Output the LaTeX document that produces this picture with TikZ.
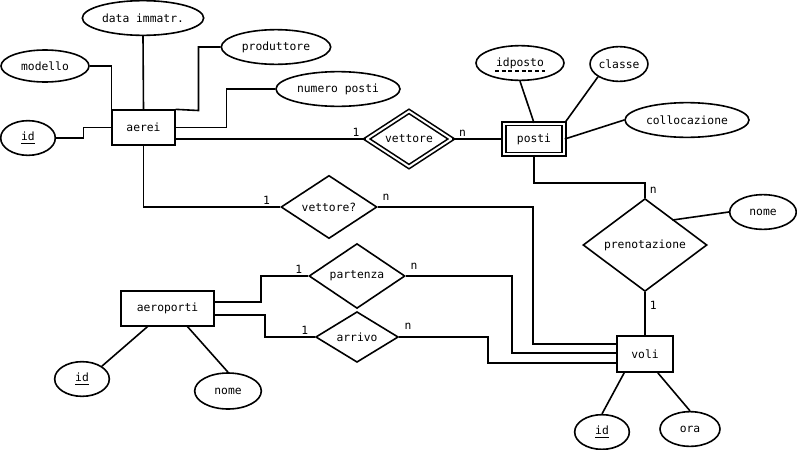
\documentclass[tikz,border=0pt]{standalone}
\usepackage{fontspec}
\setmonofont{DejaVu Sans Mono}
\usetikzlibrary{shapes.geometric}

\tikzset{
  er/.style={line width=1.2pt, font=\ttfamily\fontsize{8.5}{10}\selectfont, inner sep=0pt},
  entity/.style={er, draw, rectangle},
  attr/.style={er, draw, ellipse},
  rel/.style={er, draw, diamond},
  wrel/.style={er, draw, diamond, double, double distance=1.5pt},
  link/.style={line width=1.2pt},
  card/.style={font=\ttfamily\fontsize{8.5}{10}\selectfont, inner sep=1pt}
}

\begin{document}
\begin{tikzpicture}[x=0.75pt, y=-0.75pt]
  \useasboundingbox (0,0) rectangle (797,450);

  % entities
  \node[entity, minimum width=47pt, minimum height=26pt] (aerei) at (143.5,127.5) {aerei};
  \node[entity, minimum width=45pt, minimum height=23pt, double, double distance=1.5pt] (posti) at (534,139) {posti};
  \node[entity, minimum width=42pt, minimum height=27pt] (voli) at (645,354) {voli};
  \node[entity, minimum width=70pt, minimum height=26pt] (aeroporti) at (167.5,308.5) {aeroporti};

  % relationships
  \node[wrel, minimum width=64pt, minimum height=38pt] (vettore) at (409,139) {vettore};
  \node[rel, minimum width=72pt, minimum height=44pt] (vettoreq) at (329,207) {vettore?};
  \node[rel, minimum width=93pt, minimum height=56pt] (prenotazione) at (645,245) {prenotazione};
  \node[rel, minimum width=72pt, minimum height=44pt] (partenza) at (357,276) {partenza};
  \node[rel, minimum width=62pt, minimum height=38pt] (arrivo) at (357,337) {arrivo};

  % attributes
  \node[attr, minimum width=66pt, minimum height=24pt] (modello) at (45,66) {modello};
  \node[attr, minimum width=91pt, minimum height=26pt] (dataimm) at (143,18) {data immatr.};
  \node[attr, minimum width=82pt, minimum height=26pt] (produttore) at (276,47) {produttore};
  \node[attr, minimum width=93pt, minimum height=26pt] (numposti) at (338,89) {numero posti};
  \node[attr, minimum width=41pt, minimum height=26pt] (aereiid) at (28,138) {\underline{id}};
  \node[attr, minimum width=66pt, minimum height=26pt] (idposto) at (520,63) {idposto};
  \node[attr, minimum width=42pt, minimum height=26pt] (classe) at (619,64) {classe};
  \node[attr, minimum width=93pt, minimum height=26pt] (collocazione) at (687,120) {collocazione};
  \node[attr, minimum width=50pt, minimum height=26pt] (prennome) at (763,212) {nome};
  \node[attr, minimum width=41pt, minimum height=26pt] (voliid) at (602,432) {\underline{id}};
  \node[attr, minimum width=45pt, minimum height=26pt] (ora) at (690,429) {ora};
  \node[attr, minimum width=41pt, minimum height=26pt] (aeroid) at (82,379) {\underline{id}};
  \node[attr, minimum width=50pt, minimum height=27pt] (aeronome) at (228,391) {nome};
  \draw[line width=1.2pt, dash pattern=on 3pt off 2pt] (495,71) -- (545,71);

  % attribute links
  \draw[link] (modello.east) -| (aerei.north west);
  \draw[link] (dataimm.south) -- (aerei.north);
  \draw[link] (produttore.west) -| (198.5,110.5) -- (aerei.north east);
  \draw[link] (numposti.west) -| (226.5,127.5) -- (aerei.east);
  \draw[link] (aereiid.east) -| (83.5,127.5) -- (aerei.west);
  \draw[link] (idposto.south) -- (posti.north);
  \draw[link] (classe.south west) -- (posti.north east);
  \draw[link] (collocazione.west) -- (posti.east);
  \draw[link] (prenotazione.north east) ++(-3pt,1pt) -- (prennome.west);
  \draw[link] (voli.south west) ++(6pt,0) -- (voliid.north);
  \draw[link] (voli.south east) ++(-12pt,0) -- (ora.north);
  \draw[link] (aeroporti.south) ++(-15pt,0) -- (aeroid.north east);
  \draw[link] (aeroporti.south) ++(15pt,0) -- (aeronome.north);

  % relationship links
  \draw[link] (aerei.east |- 0,139) -- (vettore.west) node[card, pos=0.95, above] {1};
  \draw[link] (vettore.east) -- (posti.west) node[card, pos=0.2, above] {n};
  \draw[link] (posti.south) |- (645,183) -- (prenotazione.north) node[card, pos=0.5, right=2pt] {n};
  \draw[link] (prenotazione.south) -- (voli.north) node[card, pos=0.3, right=2pt] {1};
  \draw[link] (aerei.south) |- (vettoreq.west) node[card, pos=0.95, above] {1};
  \draw[link] (vettoreq.east) -| (533,344) -- (voli.west |- 0,344);
  \node[card] at (386,197) {n};
  \draw[link] (aeroporti.east |- 0,302) -| (261,276) -- (partenza.west) node[card, pos=0.8, above] {1};
  \draw[link] (partenza.east) -| (512,353) -- (voli.west |- 0,353);
  \node[card] at (414,266) {n};
  \draw[link] (aeroporti.east |- 0,315) -| (265,337) -- (arrivo.west) node[card, pos=0.8, above] {1};
  \draw[link] (arrivo.east) -| (488,363) -- (voli.west |- 0,363);
  \node[card] at (408,326) {n};
\end{tikzpicture}
\end{document}
